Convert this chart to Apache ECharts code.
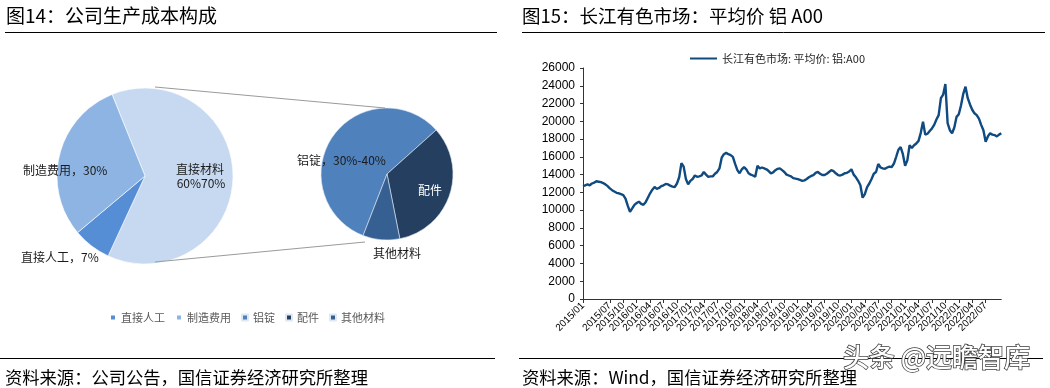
<!DOCTYPE html>
<html>
<head>
<meta charset="utf-8">
<script src="https://cdn.jsdelivr.net/npm/echarts@6/dist/echarts.min.js"></script>
<style>
html,body{margin:0;padding:0;background:#fff;}
#c{width:1050px;height:388px;}
</style>
</head>
<body>
<div id="c"></div>
<script>
// ---------- data ----------
const costNames = ['直接材料', '直接人工', '制造费用'];
const costValues = [63, 7, 30];
const costColors = ['#C6D9F1', '#558ED5', '#8DB4E2'];

const materialNames = ['铝锭', '配件', '其他材料'];
const materialValues = [57.5, 33.5, 9];
const materialColors = ['#4F81BD', '#243F60', '#376092'];

const legendNames = ['直接人工', '制造费用', '铝锭', '配件', '其他材料'];

const priceName = '长江有色市场: 平均价: 铝:A00';
// semi-monthly readings (1st half, 2nd half of each month)
const price2015 = [12700,12800, 12900,12800, 13000,13100, 13250,13200, 13150,13050, 12900,12700, 12450,12250, 12100,11950, 11900,11800, 11700,11300, 10500,9800, 10200,10600];
const price2016 = [10800,10950, 10700,10600, 10900,11400, 11900,12300, 12600,12400, 12500,12700, 12800,12950, 12900,12750, 12650,12600, 13000,13700, 15300,14900, 13500,12900];
const price2017 = [13300,13500, 13900,13750, 13800,13900, 14300,14000, 13750,13800, 13800,14100, 14300,14700, 15900,16300, 16450,16300, 16200,16000, 15200,14500, 14150,14600];
const price2018 = [14850,14600, 14150,14000, 13900,13750, 15000,14700, 14800,14700, 14600,14400, 14150,14250, 14500,14650, 14700,14500, 14300,14000, 13900,13800, 13600,13550];
const price2019 = [13500,13400, 13300,13350, 13500,13700, 13850,13950, 14200,14300, 14100,13950, 13950,14100, 14300,14500, 14400,14150, 13950,13900, 14000,14150, 14200,14350];
const price2020 = [14600,14000, 13700,13300, 12800,11400, 11800,12600, 13000,13500, 14100,14300, 15200,14800, 14700,14650, 14800,14900, 14850,15250, 16000,16800, 17100,16300];
const price2021 = [15000,15600, 17300,17000, 17300,17500, 17800,18700, 19950,18500, 18600,18900, 19200,19600, 20200,20700, 22600,23000, 24200,19800, 19000,18650, 19300,20500];
const price2022 = [20800,21800, 23100,23900, 22600,21900, 21300,20900, 20700,20300, 19600,19000, 17700,18300, 18650,18500, 18450,18300, 18500,18650];
const priceValues = [].concat(price2015, price2016, price2017, price2018, price2019, price2020, price2021, price2022);

const dates = [];
for (let y = 2015; y <= 2022; y++) {
  for (let m = 1; m <= 12; m++) {
    if (y === 2022 && m > 10) break;
    const mm = (m < 10 ? '0' : '') + m;
    dates.push(y + '/' + mm + '/01');
    dates.push(y + '/' + mm + '/16');
  }
}
const quarterMonths = ['01', '04', '07', '10'];

const titles = ['图14：公司生产成本构成', '图15：长江有色市场：平均价 铝 A00'];
const sources = ['资料来源：公司公告，国信证券经济研究所整理', '资料来源：Wind，国信证券经济研究所整理'];
const pieLabels = ['直接材料', '60%70%', '制造费用，30%', '直接人工，7%', '铝锭，30%-40%', '配件', '其他材料'];
const watermark = '头条 @远瞻智库';

// ---------- chart ----------
const CJK = '"Noto Sans CJK SC", "Liberation Sans", sans-serif';
const chart = echarts.init(document.getElementById('c'), null, {renderer: 'canvas'});

function isQuarterStart(idx, val) {
  const v = dates[idx];
  return v.slice(8) === '01' && quarterMonths.indexOf(v.slice(5, 7)) >= 0;
}

function txt(x, y, text, opt) {
  return {
    type: 'text', x: x, y: y, silent: true, z: 100,
    style: Object.assign({text: text, fill: '#1a1a1a', font: '12px ' + CJK, textVerticalAlign: 'middle'}, opt || {})
  };
}
function line(x1, y1, x2, y2, color, w) {
  return {type: 'line', silent: true, z: 100, shape: {x1: x1, y1: y1, x2: x2, y2: y2}, style: {stroke: color, lineWidth: w}};
}

const graphics = [
  txt(6, 16, titles[0], {font: '19px ' + CJK, fill: '#000'}),
  txt(522, 16, titles[1], {font: '18.5px ' + CJK, fill: '#000'}),
  line(5, 32.5, 497, 32.5, '#000', 1),
  line(522, 32.5, 1045, 32.5, '#000', 1),
  line(0, 358.5, 495, 358.5, '#000', 1),
  line(519, 358.5, 1043, 358.5, '#000', 1),
  txt(5, 377, sources[0], {font: '17.3px ' + CJK, fill: '#000'}),
  txt(522, 377, sources[1], {font: '17.3px ' + CJK, fill: '#000'}),
  // connector lines between the pies
  line(155, 87, 385, 108, '#9a9a9a', 1),
  line(155, 262, 365, 242, '#9a9a9a', 1),
  // pie labels
  txt(200, 169, pieLabels[0], {textAlign: 'center'}),
  txt(201, 183, pieLabels[1], {textAlign: 'center'}),
  txt(23, 170, pieLabels[2]),
  txt(21, 257, pieLabels[3]),
  txt(297, 160, pieLabels[4]),
  txt(418, 190, pieLabels[5], {fill: '#ffffff'}),
  txt(373, 253, pieLabels[6]),
  // watermark
  txt(843, 357, watermark, {font: '500 26px ' + CJK, fill: '#ffffff', stroke: '#3a3a3a', lineWidth: 1.5})
];

chart.setOption({
  animation: false,
  backgroundColor: '#ffffff',
  textStyle: {fontFamily: CJK},
  legend: [
    {
      data: legendNames,
      left: 104,
      top: 307,
      icon: 'rect',
      itemWidth: 6,
      itemHeight: 6,
      itemGap: 10,
      itemTextGap: 3,
      textStyle: {fontSize: 11, color: '#595959', fontFamily: CJK}
    },
    {
      data: [priceName],
      left: 685,
      top: 48,
      icon: 'rect',
      itemWidth: 27,
      itemHeight: 2,
      itemTextGap: 2,
      textStyle: {fontSize: 11, color: '#262626', fontFamily: CJK}
    }
  ],
  grid: {left: 583, top: 68, right: 48.7, bottom: 89, containLabel: false},
  xAxis: {
    type: 'category',
    data: dates,
    boundaryGap: false,
    axisLine: {lineStyle: {color: '#333', width: 1}},
    axisTick: {show: true, interval: isQuarterStart, length: 4, inside: false, lineStyle: {color: '#333'}},
    axisLabel: {
      interval: isQuarterStart,
      showMinLabel: true,
      hideOverlap: false,
      rotate: 45,
      fontSize: 10,
      color: '#000',
      margin: 5,
      fontFamily: '"Liberation Sans", Arial, sans-serif',
      formatter: function (v) { return v.slice(0, 7); }
    },
    splitLine: {show: false}
  },
  yAxis: {
    type: 'value',
    min: 0,
    max: 26000,
    interval: 2000,
    axisLine: {show: true, lineStyle: {color: '#333', width: 1}},
    axisTick: {show: true, length: 3, lineStyle: {color: '#333'}},
    axisLabel: {fontSize: 12, color: '#000', margin: 8, fontFamily: '"Liberation Sans", Arial, sans-serif',
      formatter: function (v) { return String(v); }},
    splitLine: {show: false}
  },
  series: [
    {
      type: 'pie',
      name: 'cost',
      center: [145, 176],
      radius: [0, 88],
      startAngle: 112,
      clockwise: true,
      label: {show: false},
      labelLine: {show: false},
      silent: true,
      itemStyle: {borderColor: '#ffffff', borderWidth: 0.6},
      data: costNames.map(function (n, i) { return {name: n, value: costValues[i], itemStyle: {color: costColors[i]}}; })
    },
    {
      type: 'pie',
      name: 'material',
      center: [387, 174],
      radius: [0, 66],
      startAngle: 248.8,
      clockwise: true,
      label: {show: false},
      labelLine: {show: false},
      silent: true,
      itemStyle: {borderColor: '#dfe8f3', borderWidth: 0.6},
      data: materialNames.map(function (n, i) { return {name: n, value: materialValues[i], itemStyle: {color: materialColors[i]}}; })
    },
    {
      type: 'line',
      name: priceName,
      data: priceValues,
      showSymbol: false,
      symbol: 'none',
      lineStyle: {color: '#0F4A80', width: 2.4},
      itemStyle: {color: '#0F4A80'}
    }
  ],
  graphic: graphics
});
</script>
</body>
</html>
